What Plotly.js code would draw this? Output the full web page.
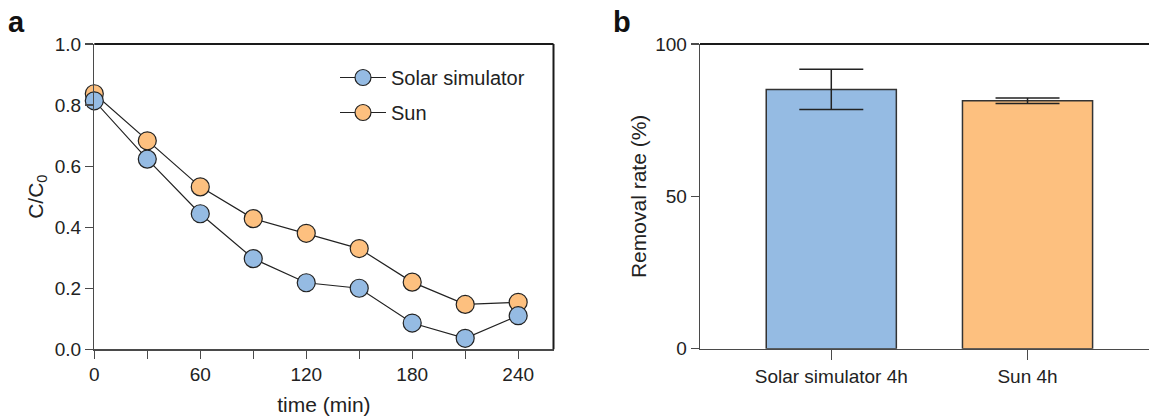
<!DOCTYPE html>
<html>
<head>
<meta charset="utf-8">
<script src="https://cdn.plot.ly/plotly-3.0.1.min.js"></script>
<style>html,body{margin:0;padding:0;background:#fff;}#chart{width:1149px;height:416px;}</style>
</head>
<body>
<div id="chart"></div>
<script>
// Panel a data
const timeMin = [0, 30, 60, 90, 120, 150, 180, 210, 240];
const solarSimulator = [0.814, 0.623, 0.444, 0.297, 0.218, 0.200, 0.086, 0.036, 0.110];
const sun = [0.837, 0.683, 0.532, 0.428, 0.380, 0.330, 0.220, 0.147, 0.154];
const timeTickVals = [0, 30, 60, 90, 120, 150, 180, 210, 240];
const timeTickText = ['0', '', '60', '', '120', '', '180', '', '240'];
const ratioTickVals = [0, 0.2, 0.4, 0.6, 0.8, 1.0];
const ratioTickText = ['0.0', '0.2', '0.4', '0.6', '0.8', '1.0'];

// Panel b data
const conditions = ['Solar simulator 4h', 'Sun 4h'];
const removalRate = [85.1, 81.4];
const removalErr = [6.6, 0.9];
const removalTickVals = [0, 50, 100];

const blue = '#95bbe3';
const orange = '#fdc07f';
const ink = '#222222';
const font = 'Liberation Sans, Arial, Helvetica, sans-serif';

const W = 1149, H = 416;
const ax = {l: 94.3, r: 553.5, t: 44, b: 349.3};
const bx = {l: 700, r: 1149, t: 44, b: 348.7};

const traces = [
  {
    x: timeMin, y: sun, name: 'Sun', type: 'scatter', mode: 'lines+markers',
    xaxis: 'x', yaxis: 'y', legendrank: 2, legendgroup: 'g2', cliponaxis: false,
    line: {color: ink, width: 1.2},
    marker: {size: 18, color: orange, line: {color: ink, width: 1.2}}
  },
  {
    x: timeMin, y: solarSimulator, name: 'Solar simulator', type: 'scatter', mode: 'lines+markers',
    xaxis: 'x', yaxis: 'y', legendrank: 1, legendgroup: 'g1', cliponaxis: false,
    line: {color: ink, width: 1.2},
    marker: {size: 18, color: blue, line: {color: ink, width: 1.2}}
  },
  {
    x: conditions, y: removalRate, type: 'bar', xaxis: 'x2', yaxis: 'y2', showlegend: false,
    width: 0.663,
    marker: {color: [blue, orange], line: {color: '#333333', width: 1.5}},
    error_y: {type: 'data', array: removalErr, visible: true, color: ink, thickness: 1.5, width: 32}
  }
];

const tickSize = 19, titleSize = 21;

const axisCommon = {
  showline: true, linecolor: '#4a4a4a', linewidth: 1.3,
  ticks: 'outside', ticklen: 8, tickwidth: 1.2, tickcolor: '#4a4a4a',
  showgrid: false, zeroline: false,
  tickfont: {family: font, size: tickSize, color: ink},
  automargin: false
};

const layout = {
  width: W, height: H,
  margin: {l: 0, r: 0, t: 0, b: 0},
  paper_bgcolor: '#fff', plot_bgcolor: '#fff',
  font: {family: font, color: ink},
  showlegend: true,
  legend: {
    x: 335 / W, y: 1 - 58 / H, xanchor: 'left', yanchor: 'top',
    font: {family: font, size: 20, color: ink},
    bgcolor: 'rgba(0,0,0,0)', tracegroupgap: 6, itemwidth: 46
  },
  xaxis: Object.assign({}, axisCommon, {
    domain: [ax.l / W, ax.r / W], anchor: 'y',
    range: [0, 260], tickvals: timeTickVals, ticktext: timeTickText,
    title: {text: 'time (min)', font: {family: font, size: titleSize, color: ink}, standoff: 13}
  }),
  yaxis: Object.assign({}, axisCommon, {
    domain: [1 - ax.b / H, 1 - ax.t / H], anchor: 'x',
    range: [0, 1], tickvals: ratioTickVals, ticktext: ratioTickText,
    title: {text: 'C/C<sub>0</sub>', font: {family: font, size: titleSize, color: ink}, standoff: 5}
  }),
  xaxis2: Object.assign({}, axisCommon, {
    domain: [bx.l / W, 1], anchor: 'y2', type: 'category',
    range: [-0.669, 1.619], ticklen: 10
  }),
  yaxis2: Object.assign({}, axisCommon, {
    domain: [1 - bx.b / H, 1 - bx.t / H], anchor: 'x2',
    range: [0, 100], tickvals: removalTickVals,
    title: {text: 'Removal rate (%)', font: {family: font, size: titleSize, color: ink}, standoff: 2}
  }),
  shapes: [
    {type: 'line', xref: 'x domain', yref: 'y domain', x0: 0, x1: 1, y0: 1, y1: 1, line: {color: '#1a1a1a', width: 2}},
    {type: 'line', xref: 'x domain', yref: 'y domain', x0: 1, x1: 1, y0: 0, y1: 1, line: {color: '#1a1a1a', width: 2}},
    {type: 'line', xref: 'x2 domain', yref: 'y2 domain', x0: 0, x1: 1, y0: 1, y1: 1, line: {color: '#1a1a1a', width: 2}}
  ],
  annotations: [
    {text: '<b>a</b>', xref: 'paper', yref: 'paper', x: 6 / W, y: 1 - 22 / H, xanchor: 'left', yanchor: 'middle', showarrow: false, font: {family: font, size: 29, color: '#111'}},
    {text: '<b>b</b>', xref: 'paper', yref: 'paper', x: 611 / W, y: 1 - 22 / H, xanchor: 'left', yanchor: 'middle', showarrow: false, font: {family: font, size: 29, color: '#111'}}
  ]
};

Plotly.newPlot('chart', traces, layout, {displayModeBar: false, staticPlot: true});
</script>
</body>
</html>
